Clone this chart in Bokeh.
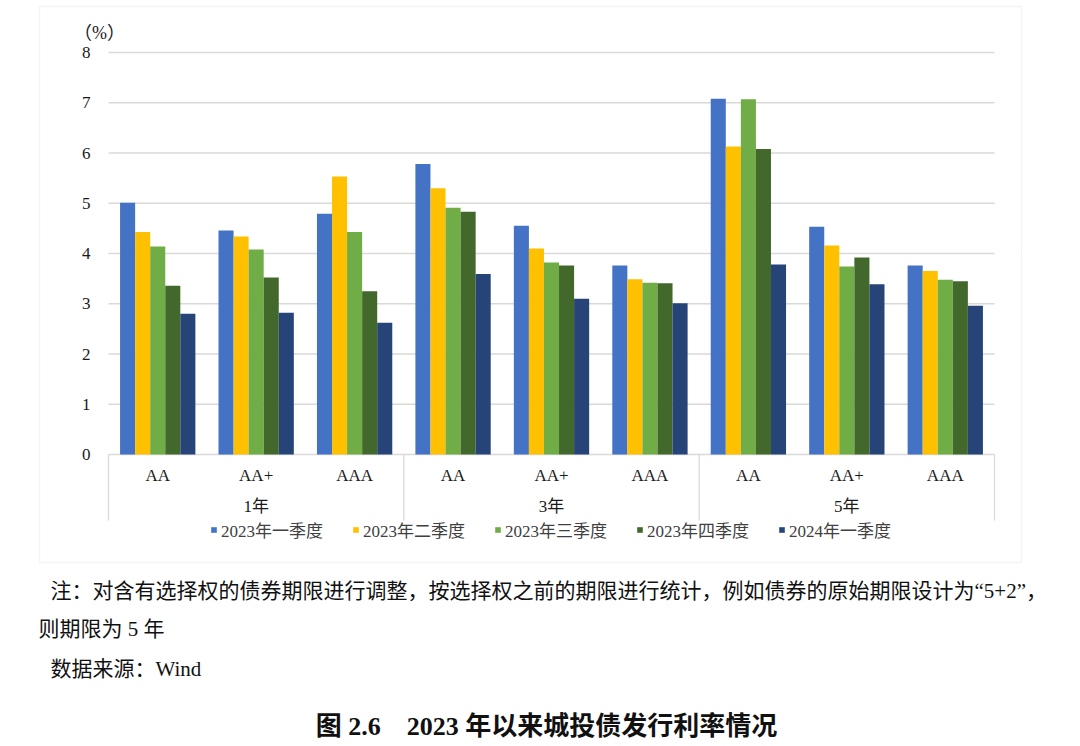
from bokeh.plotting import figure
from bokeh.models import (FactorRange, Range1d, Legend, LegendItem, Label, LabelSet,
                          BoxAnnotation, ColumnDataSource)
from bokeh.transform import dodge
from bokeh.core.properties import value
from bokeh.embed import file_html
from bokeh.resources import INLINE

# ---------------- data ----------------
periods = ["1年", "3年", "5年"]
ratings = ["AA", "AA+", "AAA"]
series_names = ["2023年一季度", "2023年二季度", "2023年三季度", "2023年四季度", "2024年一季度"]

q1_2023 = [5.01, 4.46, 4.79, 5.78, 4.55, 3.76, 7.08, 4.53, 3.76]
q2_2023 = [4.43, 4.34, 5.53, 5.30, 4.10, 3.49, 6.13, 4.16, 3.65]
q3_2023 = [4.14, 4.08, 4.43, 4.91, 3.82, 3.42, 7.07, 3.74, 3.48]
q4_2023 = [3.36, 3.52, 3.25, 4.83, 3.76, 3.41, 6.08, 3.92, 3.45]
q1_2024 = [2.80, 2.82, 2.62, 3.59, 3.10, 3.01, 3.78, 3.39, 2.96]

y_ticks = [0, 1, 2, 3, 4, 5, 6, 7, 8]
y_tick_labels = ["0", "1", "2", "3", "4", "5", "6", "7", "8"]
colors = ["#4472C4", "#FFC000", "#70AD47", "#43682B", "#264478"]

note_line1 = "注：对含有选择权的债券期限进行调整，按选择权之前的期限进行统计，例如债券的原始期限设计为“5+2”，"
note_line2 = "则期限为 5 年"
source_line = "数据来源：Wind"
title_text = "图 2.6\u30002023 年以来城投债发行利率情况"
unit_text = "（%）"

# ---------------- layout constants (pixels) ----------------
W, H = 1072, 744
FRAME_LEFT = 30                 # canvas x where the drawing frame starts
PLOT_L, PLOT_R = 108, 994       # plot area in canvas px
PLOT_TOP, PLOT_ZERO = 52, 454   # y of value 8 and of value 0
PX = (PLOT_ZERO - PLOT_TOP) / 8.0

SERIF = "'Liberation Serif', 'Noto Sans CJK SC'"
factors = [(p_, r) for p_ in periods for r in ratings]

unit_px = (PLOT_R - PLOT_L) / len(factors)
pad = (PLOT_L - FRAME_LEFT) / unit_px

x_range = FactorRange(factors=factors, factor_padding=0, group_padding=0,
                      subgroup_padding=0, range_padding=pad,
                      range_padding_units="absolute")
y_range = Range1d(-(H - PLOT_ZERO) / PX, PLOT_ZERO / PX)

p = figure(width=W, height=H, x_range=x_range, y_range=y_range,
           output_backend="svg", toolbar_location=None,
           x_axis_location=None, y_axis_location=None,
           min_border_left=FRAME_LEFT, min_border_right=0, min_border_top=0,
           min_border_bottom=0, outline_line_color=None,
           background_fill_color="white", border_fill_color="white")
p.xgrid.visible = False
p.ygrid.visible = False

src = ColumnDataSource(dict(x=factors, s0=q1_2023, s1=q2_2023, s2=q3_2023,
                            s3=q4_2023, s4=q1_2024))

# horizontal grid lines over the plot area only
x_first = (periods[0], ratings[0], -0.5)
x_last = (periods[-1], ratings[-1], 0.5)
p.segment(x0=[x_first] * len(y_ticks), x1=[x_last] * len(y_ticks),
          y0=y_ticks, y1=y_ticks, line_color="#d9d9d9", line_width=1.3)

# bars
bar_w = 0.153
renderers = []
for i, (name, c) in enumerate(zip(series_names, colors)):
    off = (i - 2) * bar_w
    r = p.vbar(x=dodge("x", off, range=p.x_range), top="s%d" % i, width=bar_w,
               source=src, fill_color=c, line_color=None)
    renderers.append(r)

# category separators (table-like axis)
sep_bottom = -(520 - PLOT_ZERO) / PX
sep_x = [(pp, ratings[0], -0.5) for pp in periods] + [x_last]
p.segment(x0=sep_x, y0=[0] * len(sep_x), x1=sep_x, y1=[sep_bottom] * len(sep_x),
          line_color="#d9d9d9", line_width=1.3)

# category labels
p.text(x=factors, y=[-(475 - PLOT_ZERO) / PX] * len(factors), text=[f[1] for f in factors],
       text_align="center", text_baseline="middle", text_font=value(SERIF),
       text_font_size="17px", text_color="#1a1a1a")
p.text(x=periods, y=[-(506 - PLOT_ZERO) / PX] * len(periods), text=periods,
       text_align="center", text_baseline="middle", text_font=value(SERIF),
       text_font_size="17px", text_color="#1a1a1a")

# y tick labels
tick_src = ColumnDataSource(dict(y=y_ticks, t=y_tick_labels))
p.add_layout(LabelSet(x=90 - FRAME_LEFT, y="y", text="t", x_units="screen", y_units="data",
                      source=tick_src, text_align="right", text_baseline="middle",
                      text_font=SERIF, text_font_size="17px", text_color="#1a1a1a"))

# legend
items = [LegendItem(label=n, renderers=[r]) for n, r in zip(series_names, renderers)]
legend = Legend(items=items, orientation="horizontal", location=(210 - FRAME_LEFT, H - 542),
                glyph_width=7, glyph_height=7, label_standoff=4, spacing=29,
                padding=0, margin=0, border_line_color=None,
                background_fill_alpha=0, label_text_font=SERIF,
                label_text_font_size="17px", label_text_color="#404040")
p.add_layout(legend)

# outer chart box
box = BoxAnnotation(left=39, right=1021, top=6, bottom=562,
                    left_units="canvas", right_units="canvas",
                    top_units="canvas", bottom_units="canvas",
                    fill_color=None, fill_alpha=0, line_color="#d9d9d9",
                    line_width=1.3)
p.add_layout(box)


def add_text(txt, x, y, size, align="left", bold=False, color="#111111"):
    p.add_layout(Label(x=x - FRAME_LEFT, y=H - y, x_units="screen", y_units="screen",
                       text=txt, text_align=align, text_baseline="middle",
                       text_font=SERIF, text_font_size=size,
                       text_font_style="bold" if bold else "normal",
                       text_color=color))


add_text(unit_text, 99, 32, "18px", align="center", color="#1a1a1a")
add_text(note_line1, 50, 590, "21px")
add_text(note_line2, 38, 628, "21px")
add_text(source_line, 50, 668, "21px")
add_text(title_text, 546, 726, "26px", align="center", bold=True)

open("out.html", "w").write(file_html(p, INLINE))
